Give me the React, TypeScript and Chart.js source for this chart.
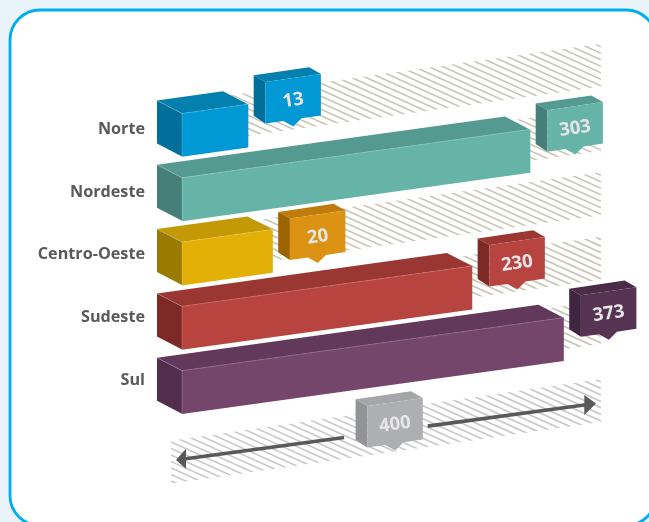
import React, { useEffect, useRef } from "react";
import { Chart, registerables, LinearScale, CategoryScale } from "chart.js";

const regions = ["Norte", "Nordeste", "Centro-Oeste", "Sudeste", "Sul"];
const totals = [13, 303, 20, 230, 373];
const axisMax = 400;

const frontColors = ["#0099d6", "#66b3a8", "#e2b007", "#b8443f", "#74466b"];
const topColors = ["#0380ad", "#559a90", "#c39a05", "#9a3733", "#62385b"];
const sideColors = ["#006f99", "#457f77", "#9a7a00", "#7d2a27", "#522d4c"];
const tagFront = ["#0099d6", "#66b3a8", "#dc9213", "#b8443f", "#563352"];
const tagTop = ["#0380ad", "#559a90", "#bf7c0c", "#9a3733", "#4a2c47"];
const tagSide = ["#006f99", "#457f77", "#9b6400", "#7d2a27", "#3f2540"];
const tagRise = [22.3, 19.3, 10.9, 21, 22.3];

// The reference is an infographic whose bar lengths are not proportional to their numbers:
const axisValues = [0, 13, 20, 230, 303, 373, 400];
const axisFractions = [0, 0.1575, 0.216, 0.692, 0.8305, 0.9105, 1];

const SLOPE = 0.139;
const DEPTH_X = 25;
const DEPTH_Y = 13;
const BAR_H = 43;

class PiecewiseScale extends (LinearScale as any) {
  static id = "piecewise";
  static defaults = (LinearScale as any).defaults;
  getPixelForValue(v: number) {
    let i = 0;
    while (i < axisValues.length - 2 && v > axisValues[i + 1]) i++;
    const t = (v - axisValues[i]) / (axisValues[i + 1] - axisValues[i]);
    const f = axisFractions[i] + t * (axisFractions[i + 1] - axisFractions[i]);
    return (this as any).left + f * (this as any).width;
  }
}

// Category axis whose labels climb slightly, as they do in the picture.
class DriftCategoryScale extends (CategoryScale as any) {
  static id = "driftCategory";
  static defaults = (CategoryScale as any).defaults;
  _computeLabelItems(area: any) {
    const items = super._computeLabelItems(area);
    items.forEach((it: any, i: number) => {
      it.options.translation[1] -= 5.75 + 1.6 * i;
    });
    return items;
  }
}

Chart.register(...registerables, PiecewiseScale as any, DriftCategoryScale as any);

function poly(ctx: CanvasRenderingContext2D, pts: number[][], fill: string) {
  ctx.beginPath();
  pts.forEach((p, i) => (i ? ctx.lineTo(p[0], p[1]) : ctx.moveTo(p[0], p[1])));
  ctx.closePath();
  ctx.fillStyle = fill;
  ctx.fill();
}

function hatch(ctx: CanvasRenderingContext2D, x0: number, x1: number, yTop: number, slope: number, color: string) {
  ctx.save();
  ctx.beginPath();
  ctx.moveTo(x0, yTop);
  ctx.lineTo(x1, yTop - (x1 - x0) * slope);
  ctx.lineTo(x1, yTop - (x1 - x0) * slope + BAR_H);
  ctx.lineTo(x0, yTop + BAR_H);
  ctx.closePath();
  ctx.clip();
  ctx.strokeStyle = color;
  ctx.lineWidth = 1.6;
  const s = 0.45;
  const w = x1 - x0;
  for (let y = yTop - w * (slope + s) - 10; y < yTop + BAR_H + 10; y += 6.5) {
    ctx.beginPath();
    ctx.moveTo(x0, y);
    ctx.lineTo(x1, y + w * s);
    ctx.stroke();
  }
  ctx.restore();
}

function tag(
  ctx: CanvasRenderingContext2D,
  x: number,
  y: number,
  text: string,
  front: string,
  top: string,
  side: string
) {
  const w = 55.5;
  const h = 41.5;
  const s = 0.145;
  const dx = 11.7;
  const dy = 6.7;
  poly(ctx, [[x, y], [x + w, y - w * s], [x + w - dx, y - w * s - dy], [x - dx, y - dy]], top);
  poly(ctx, [[x, y], [x - dx, y - dy], [x - dx, y - dy + h - 1], [x, y + h]], side);
  poly(
    ctx,
    [
      [x, y],
      [x + w, y - w * s],
      [x + w, y - w * s + h],
      [x + 36, y - 36 * s + h],
      [x + 28, y - 28 * s + h + 7],
      [x + 18, y - 18 * s + h],
      [x, y + h],
    ],
    front
  );
  ctx.save();
  ctx.translate(x + w / 2, y - (w / 2) * s + h / 2 + 1.7);
  ctx.rotate(-Math.atan(s));
  ctx.fillStyle = "#e6e6e6";
  ctx.font = "700 18.5px 'Open Sans'";
  ctx.textAlign = "center";
  ctx.textBaseline = "middle";
  ctx.fillText(text, 0, 0);
  ctx.restore();
}

const scene = {
  id: "scene",
  beforeDraw(chart: any) {
    const { ctx, width, height } = chart;
    ctx.save();
    ctx.fillStyle = "#e9f3fa";
    ctx.fillRect(0, 0, width, height);
    ctx.beginPath();
    ctx.roundRect(10, 10, 646, 515.5, 30);
    ctx.fillStyle = "#ffffff";
    ctx.fill();
    ctx.strokeStyle = "#00aeef";
    ctx.lineWidth = 2.8;
    ctx.stroke();
    ctx.restore();
  },
  beforeDatasetsDraw(chart: any) {
    const { ctx, scales } = chart;
    const x = scales.x;
    const y = scales.y;
    const x0 = x.getPixelForValue(0);
    const xEnd = x.getPixelForValue(axisMax);

    regions.forEach((_, i) => {
      hatch(ctx, x0, xEnd, y.getPixelForValue(i) - BAR_H / 2 - 11.5, SLOPE, "#c9c5b2");
    });

    // axis band
    const bandTop = y.getPixelForValue(regions.length - 1) + 48.5;
    hatch(ctx, x0 - 11, xEnd, bandTop, 0.1437, "#c8c8c8");

    regions.forEach((_, i) => {
      const xr = x.getPixelForValue(totals[i]);
      const yt = y.getPixelForValue(i) - BAR_H / 2;
      const tr = yt - (xr - x0) * SLOPE;
      poly(ctx, [[x0, yt], [xr, tr], [xr - DEPTH_X, tr - DEPTH_Y], [x0 - DEPTH_X, yt - DEPTH_Y]], topColors[i]);
      poly(ctx, [[x0, yt], [x0 - DEPTH_X, yt - DEPTH_Y], [x0 - DEPTH_X, yt - DEPTH_Y + BAR_H], [x0, yt + BAR_H]], sideColors[i]);
    });

    ctx.save();
    ctx.transform(1, -SLOPE, 0, 1, 0, SLOPE * x0);
  },
  afterDatasetsDraw(chart: any) {
    const { ctx, scales } = chart;
    ctx.restore();
    const x = scales.x;
    const y = scales.y;
    const x0 = x.getPixelForValue(0);

    regions.forEach((_, i) => {
      const xr = x.getPixelForValue(totals[i]);
      const yt = y.getPixelForValue(i) - BAR_H / 2;
      const tr = yt - (xr - x0) * SLOPE;
      ctx.save();
      ctx.strokeStyle = "rgba(255,255,255,0.28)";
      ctx.lineWidth = 0.7;
      ctx.beginPath();
      ctx.moveTo(x0 - DEPTH_X, yt - DEPTH_Y);
      ctx.lineTo(x0, yt);
      ctx.lineTo(xr, tr);
      ctx.moveTo(x0, yt);
      ctx.lineTo(x0, yt + BAR_H);
      ctx.stroke();
      ctx.restore();
      tag(ctx, xr + 17.4, tr - tagRise[i], String(totals[i]), tagFront[i], tagTop[i], tagSide[i]);
    });

    // axis arrow and its label
    const ay = (px: number) => 459.3 - (px - x0) * 0.135;
    ctx.save();
    ctx.strokeStyle = "#58595b";
    ctx.fillStyle = "#58595b";
    ctx.lineWidth = 3.6;
    ctx.beginPath();
    ctx.moveTo(344, ay(344));
    ctx.lineTo(184, ay(184));
    ctx.moveTo(427.7, ay(427.7));
    ctx.lineTo(586, ay(586));
    ctx.stroke();
    ctx.beginPath();
    ctx.moveTo(176, ay(176));
    ctx.lineTo(186, ay(186) - 10);
    ctx.lineTo(186, ay(186) + 10);
    ctx.closePath();
    ctx.moveTo(596, ay(596));
    ctx.lineTo(584.3, ay(584.3) - 10);
    ctx.lineTo(584.3, ay(584.3) + 10);
    ctx.closePath();
    ctx.fill();
    ctx.restore();
    tag(ctx, 367.3, 406, String(axisMax), "#aeafb1", "#a5a6a8", "#929395");
  },
};

export default function App() {
  const ref = useRef<HTMLCanvasElement | null>(null);
  useEffect(() => {
    document.body.style.margin = "0";
    const chart = new Chart(ref.current as HTMLCanvasElement, {
      type: "bar",
      data: {
        labels: regions,
        datasets: [
          {
            label: "Total",
            data: totals,
            backgroundColor: frontColors,
            barThickness: BAR_H,
            borderWidth: 0,
          },
        ],
      },
      options: {
        indexAxis: "y",
        animation: false,
        responsive: false,
        layout: { padding: { top: 102.85, bottom: 97.65, right: 48, left: 0 } },
        plugins: { legend: { display: false }, tooltip: { enabled: false }, title: { display: false } },
        scales: {
          x: { type: "piecewise", min: 0, max: axisMax, display: false },
          y: {
            type: "driftCategory",
            position: "left",
            grid: { display: false, drawTicks: false },
            border: { display: false },
            ticks: {
              color: "#58595b",
              padding: 37,
              font: { family: "'Open Sans'", size: 16.2, weight: "700" },
              autoSkip: false,
            },
            afterFit: (s: any) => {
              s.width = 182;
            },
          },
        },
      } as any,
      plugins: [scene],
    });
    return () => chart.destroy();
  }, []);
  return <canvas ref={ref} width={649} height={522} style={{ display: "block" }} />;
}
